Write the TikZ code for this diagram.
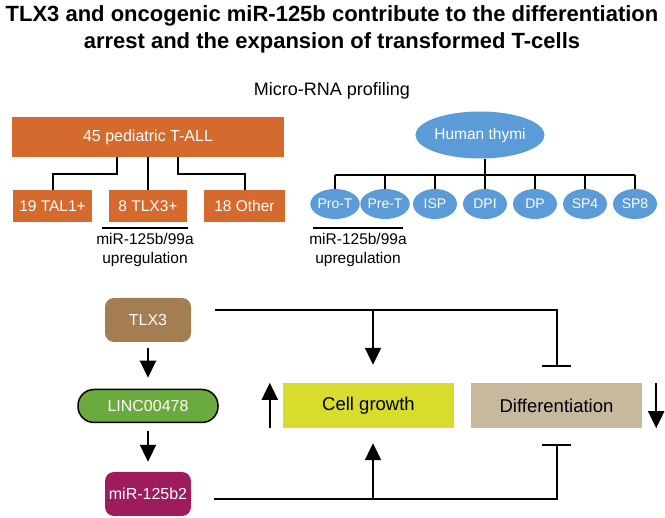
\documentclass[tikz,border=0pt]{standalone}
\usepackage{fontspec}
\setmainfont{Liberation Sans}
\usetikzlibrary{arrows.meta,positioning,shapes.geometric}
\definecolor{tallorange}{HTML}{D46A2E}
\definecolor{thymblue}{HTML}{5B9BD8}
\definecolor{tlxbrown}{HTML}{A57D52}
\definecolor{lincgreen}{HTML}{6BAA3E}
\definecolor{mirpurple}{HTML}{9E1B5C}
\definecolor{growthyellow}{HTML}{D8DC2C}
\definecolor{difftan}{HTML}{C7B99D}
\newcommand{\fs}[1]{\fontsize{#1}{#1}\selectfont}

\begin{document}
\begin{tikzpicture}[x=1pt,y=-1pt,
    box/.style={fill=tallorange,text=white,inner sep=0pt,minimum height=32pt,font=\fs{15.5}},
    cell/.style={ellipse,fill=thymblue,text=white,inner sep=0pt,minimum width=44pt,minimum height=30pt,font=\fs{14}},
    gene/.style={text=white,inner sep=0pt,minimum width=86pt,minimum height=44pt,rounded corners=9pt,font=\fs{16}},
    effect/.style={inner sep=0pt,minimum width=171pt,minimum height=45pt,font=\fs{18.5}},
    conn/.style={line width=2pt},
    arr/.style={line width=2pt,-{Triangle[width=16pt,length=17pt]}},
    inh/.style={line width=2pt,-{Bar[width=29pt]}}]
  \useasboundingbox (0,0) rectangle (665,518);

  % title
  \node[font=\bfseries\fs{22},align=center] (title) at (332,29)
    {TLX3 and oncogenic miR-125b contribute to the differentiation\\[5pt]
     arrest and the expansion of transformed T-cells};
  \node[font=\fs{18}] (profiling) at (332,91) {Micro-RNA profiling};

  % T-ALL cohort
  \node[box,minimum width=272pt,minimum height=40pt,font=\fs{16}] (tall) at (148,137) {45 pediatric T-ALL};
  \node[box,minimum width=79pt] (tal) at (52.5,206) {19 TAL1+};
  \node[box,minimum width=78pt] (tlxp) at (148,206) {8 TLX3+};
  \node[box,minimum width=81pt] (other) at (244.5,206) {18 Other};
  \draw[conn] ([xshift=-31pt]tall.south) -- ++(0,17) -| (tal.north);
  \draw[conn] (tall.south) -- (tlxp.north);
  \draw[conn] ([xshift=30pt]tall.south) -- ++(0,17) -| (other.north);
  \draw[line width=1.5pt] (102,228) -- node[below=1.5pt,align=center,font=\fs{15.5}]
    {miR-125b/99a\\[3pt]upregulation} (188,228);

  % thymic subsets
  \node[cell,minimum width=106pt,minimum height=47pt,font=\fs{15.5}] (thymi) at (480,135) {Human thymi};
  \foreach \n [count=\i from 0] in {Pro-T,Pre-T,ISP,DPI,DP,SP4,SP8} {
    \node[cell] (c\i) at (335+50*\i,204) {\n};
    \draw[conn] (c\i.north) -- ++(0,-14);
  }
  \draw[conn] ([yshift=14pt]c0.north) -- ([yshift=14pt]c6.north);
  \draw[conn] (c3.north) -- (c3.north |- thymi.south);
  \draw[line width=1.5pt] (313,228) -- node[below=1.5pt,align=center,font=\fs{15.5}]
    {miR-125b/99a\\[3pt]upregulation} (403,228);

  % pathway
  \node[gene,fill=tlxbrown] (tlx) at (148,320) {TLX3};
  \node[gene,fill=lincgreen,draw=black,line width=1.5pt,minimum width=140pt,minimum height=33pt,
        rounded corners=16pt] (linc) at (148,406) {LINC00478};
  \node[gene,fill=mirpurple] (mir) at (148,494) {miR-125b2};
  \draw[arr] ([yshift=-6pt]tlx.south) -- ([yshift=11pt]linc.north);
  \draw[arr] ([yshift=-8pt]linc.south) -- ([yshift=10pt]mir.north);

  \node[effect,fill=growthyellow] (growth) at (368.5,405.5) {Cell growth};
  \node[effect,fill=difftan] (diff) at (556.5,405.5) {Differentiation};
  \draw[arr] ([xshift=-13pt]growth.south west) -- ([xshift=-13pt]growth.north west);
  \draw[arr] ([xshift=14pt]diff.north east) -- ([xshift=14pt]diff.south east);

  \draw[inh] ([xshift=24pt,yshift=10pt]tlx.east) -| ([yshift=16pt]diff.north);
  \draw[arr] ([xshift=4.5pt,yshift=73pt]growth.north) -- ([xshift=4.5pt,yshift=18pt]growth.north);
  \draw[inh] ([xshift=23pt,yshift=-5pt]mir.east) -| ([yshift=-16pt]diff.south);
  \draw[arr] ([xshift=4.5pt,yshift=-71pt]growth.south) -- ([xshift=4.5pt,yshift=-15pt]growth.south);
\end{tikzpicture}
\end{document}
